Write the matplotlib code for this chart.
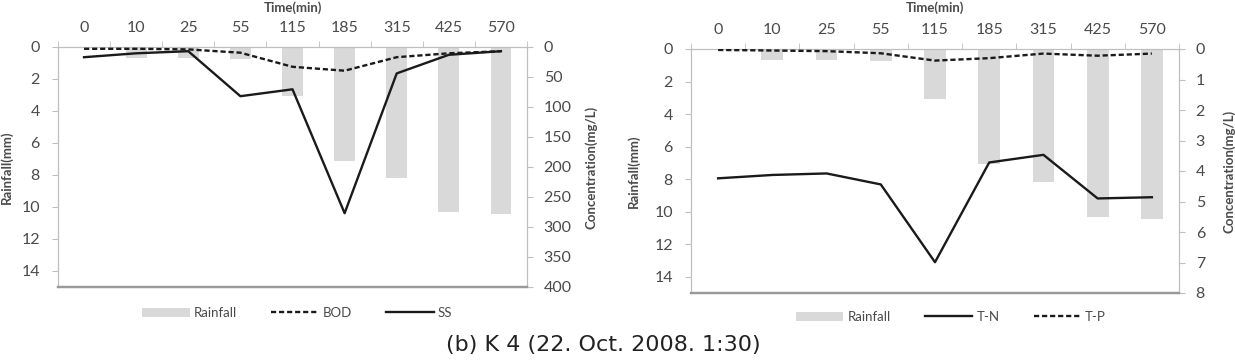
import matplotlib.pyplot as plt
import numpy as np

# data
times = ["0", "10", "25", "55", "115", "185", "315", "425", "570"]
rainfall = [0.0, 0.7, 0.7, 0.75, 3.08, 7.1, 8.2, 10.3, 10.45]
bod = [3, 3, 4, 9.5, 33, 39.5, 17, 10.5, 7]
ss = [17, 10.5, 7, 82, 70.5, 277, 44, 13, 7]
tn = [4.24, 4.13, 4.08, 4.44, 6.99, 3.72, 3.47, 4.9, 4.86]
tp = [0.03, 0.05, 0.07, 0.14, 0.38, 0.30, 0.15, 0.22, 0.15]

plt.rcParams['font.family'] = ['Lato', 'DejaVu Sans']

bar_color = "#d9d9d9"
line_color = "#1a1a1a"
text_color = "#4a4a4a"
spine_color = "#bfbfbf"

fig = plt.figure(figsize=(12.35, 3.6), dpi=100)
fig.patch.set_facecolor("white")


def panel(rect, conc_max, conc_step, s1, s2, lab1, lab2, ls1, ls2,
          ylab_x, clab_x, leg_xy):
    ax = fig.add_axes(rect)
    x = np.arange(len(times))
    ax.bar(x, rainfall, width=0.4, color=bar_color, label="Rainfall", zorder=1)
    ax.set_xlim(-0.5, len(times) - 0.5)
    ax.set_ylim(15, 0)
    ax.set_yticks(np.arange(0, 15, 2))
    ax.xaxis.tick_top()
    ax.set_xticks(x)
    ax.set_xticklabels(times)
    ax.set_xticks(np.arange(-0.5, len(times), 1), minor=True)
    ax.tick_params(axis='x', which='major', length=0, pad=9, labelsize=11.5,
                   colors=text_color)
    ax.tick_params(axis='x', which='minor', length=4, color=spine_color,
                   direction='out')
    ax.tick_params(axis='y', length=4, color=spine_color, pad=9,
                   labelsize=11.5, labelcolor=text_color)
    ax.set_ylabel("Rainfall(mm)", fontsize=9.5, fontweight='bold', color=text_color)
    ax.yaxis.set_label_coords(ylab_x, 0.5)

    ax2 = ax.twinx()
    for vals, lab, ls in ((s1, lab1, ls1), (s2, lab2, ls2)):
        line, = ax2.plot(x, vals, color=line_color, lw=1.7, label=lab, zorder=3)
        if ls == 'dash':
            line.set_dashes((2.2, 1.2))
    ax2.set_ylim(conc_max, 0)
    ax2.set_yticks(np.arange(0, conc_max + 0.001, conc_step))
    ax2.tick_params(axis='y', length=4, color=spine_color, pad=8,
                    labelsize=11.5, labelcolor=text_color)
    ax2.set_ylabel("Concentration(mg/L)", fontsize=9.5, fontweight='bold',
                   color=text_color)
    ax2.yaxis.set_label_coords(clab_x, 0.5)

    for a in (ax, ax2):
        for side in ('left', 'right', 'top'):
            a.spines[side].set_color(spine_color)
        a.spines['bottom'].set_color("#999999")
        a.spines['bottom'].set_linewidth(1.6)

    # axis title squeezed against the top edge, as in the source
    fig.text(rect[0] + rect[2] / 2, 1 - 1 / 360, "Time(min)", ha='center',
             va='top', fontsize=9.5, fontweight='bold', color=text_color)

    h1, l1 = ax.get_legend_handles_labels()
    h2, l2 = ax2.get_legend_handles_labels()
    fig.legend(h1 + h2, l1 + l2, loc='center', bbox_to_anchor=leg_xy, ncol=3,
               frameon=False, fontsize=9.5, handlelength=3.6, columnspacing=2.6,
               handletextpad=0.3, labelcolor=text_color)
    return ax, ax2


# left panel: BOD, SS
panel([58 / 1235, 73 / 360, 469 / 1235, 240 / 360], 400, 50,
      bod, ss, "BOD", "SS", 'dash', 'solid',
      -0.097, 1.124, (297 / 1235, 1 - 313 / 360))

# right panel: T-N, T-P
panel([691 / 1235, 67 / 360, 488 / 1235, 244 / 360], 8, 1,
      tn, tp, "T-N", "T-P", 'solid', 'dash',
      -0.1045, 1.09, (951 / 1235, 1 - 317 / 360))

fig.text(603 / 1235, 1 - 345 / 360, "(b) K 4 (22. Oct. 2008. 1:30)",
         ha='center', va='center', fontsize=16, color="#222222",
         family=['DejaVu Sans'])

plt.savefig("out.png", dpi=100, facecolor="white")
